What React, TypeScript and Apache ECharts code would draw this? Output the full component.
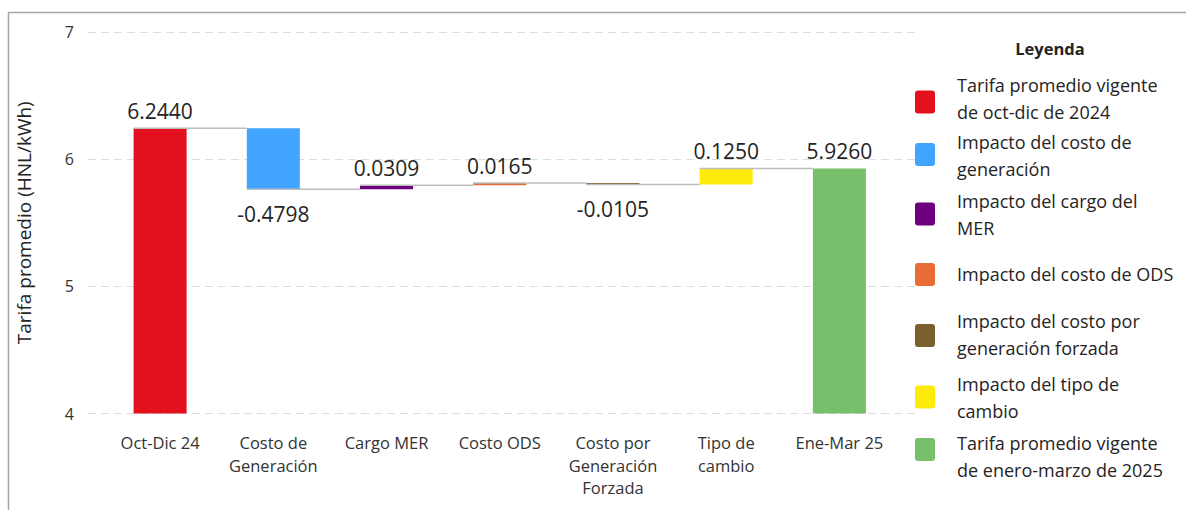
import React, { useEffect, useRef } from "react";
import * as echarts from "echarts";

const categories = [
  "Oct-Dic 24",
  "Costo de\nGeneración",
  "Cargo MER",
  "Costo ODS",
  "Costo por\nGeneración\nForzada",
  "Tipo de\ncambio",
  "Ene-Mar 25",
];
const changes = [6.244, -0.4798, 0.0309, 0.0165, -0.0105, 0.125, 5.926];
const isTotal = [true, false, false, false, false, false, true];
const barColors = ["#E3101E", "#41A5FF", "#6E007F", "#E96C37", "#7B5F2F", "#FFEB0B", "#77BF6A"];
const legendLabels = [
  "Tarifa promedio vigente\nde oct-dic de 2024",
  "Impacto del costo de\ngeneración",
  "Impacto del cargo del\nMER",
  "Impacto del costo de ODS",
  "Impacto del costo por\ngeneración forzada",
  "Impacto del tipo de\ncambio",
  "Tarifa promedio vigente\nde enero-marzo de 2025",
];
const yTicks = [4, 5, 6, 7];

const FONT = "'Open Sans', 'Noto Sans', sans-serif";

export default function App() {
  const ref = useRef<HTMLDivElement>(null);
  useEffect(() => {
    if (!ref.current) return;
    const chart = echarts.init(ref.current, undefined, { renderer: "svg" });

    const base: number[] = [];
    const visible: number[] = [];
    const ends: number[] = [];
    let running = 0;
    changes.forEach((c, i) => {
      if (isTotal[i]) {
        base.push(0);
        visible.push(c);
        running = c;
      } else {
        const next = running + c;
        base.push(Math.min(running, next));
        visible.push(Math.abs(c));
        running = next;
      }
      ends.push(running);
    });
    const connectors = ends.slice(0, -1).map((v, i) => [i, v]);
    const barWidth = 53;

    const swatchY = [102, 154.5, 214, 274.5, 335.5, 397, 449.5];
    const textY = [98.5, 155, 214.5, 274, 334, 397, 456.5];
    const legendGraphics: any[] = [
      {
        type: "text",
        x: 1050,
        y: 48,
        style: { text: "Leyenda", fontFamily: FONT, fontSize: 16.5, fontWeight: "bold", fill: "#252423", align: "center", verticalAlign: "middle" },
      },
    ];
    legendLabels.forEach((lab, i) => {
      legendGraphics.push({
        type: "rect",
        shape: { x: 915, y: swatchY[i] - 11.5, width: 20, height: 23, r: 3 },
        style: { fill: barColors[i] },
      });
      legendGraphics.push({
        type: "text",
        x: 957,
        y: textY[i],
        style: { text: lab, fontFamily: FONT, fontSize: 18, fill: "#252423", lineHeight: 27, verticalAlign: "middle", align: "left" },
      });
    });

    chart.setOption({
      animation: false,
      textStyle: { fontFamily: FONT },
      grid: [
        { left: 88, right: 1186 - 915, top: 32, bottom: 510 - 413.5 },
        { left: 103.5, right: 1186 - 896, top: 32, bottom: 510 - 413.5 },
      ],
      xAxis: [
        { type: "category", gridIndex: 0, data: categories, show: false },
        {
          type: "category",
          gridIndex: 1,
          data: categories,
          axisLine: { show: false },
          axisTick: { show: false },
          axisLabel: { color: "#333", fontSize: 16.5, lineHeight: 22.5, margin: 18, interval: 0, fontFamily: FONT },
        },
      ],
      yAxis: [
        {
          type: "value",
          gridIndex: 0,
          min: yTicks[0],
          max: yTicks[yTicks.length - 1],
          interval: 1,
          axisLine: { show: false },
          axisTick: { show: false },
          axisLabel: { color: "#333", fontSize: 16, margin: 14, fontFamily: FONT },
          splitLine: { lineStyle: { color: "#DDDDDD", type: [8, 5], width: 1 } },
          name: "Tarifa promedio (HNL/kWh)",
          nameLocation: "middle",
          nameGap: 55,
          nameTextStyle: { fontSize: 19, color: "#252423", fontFamily: FONT },
        },
        {
          type: "value",
          gridIndex: 1,
          min: yTicks[0],
          max: yTicks[yTicks.length - 1],
          interval: 1,
          show: false,
          splitLine: { show: false },
        },
      ],
      graphic: [
        {
          type: "rect",
          shape: { x: 8.5, y: 12.5, width: 1300, height: 700 },
          style: { fill: "none", stroke: "#A6A6A6", lineWidth: 1.5 },
          silent: true,
        },
        ...legendGraphics,
      ],
      series: [
        {
          type: "bar",
          xAxisIndex: 1,
          yAxisIndex: 1,
          stack: "wf",
          barWidth,
          itemStyle: { color: "transparent" },
          data: base,
          silent: true,
        },
        {
          type: "bar",
          xAxisIndex: 1,
          yAxisIndex: 1,
          stack: "wf",
          barWidth,
          data: visible.map((v, i) => ({
            value: v,
            itemStyle: { color: barColors[i] },
            label: {
              show: true,
              position: changes[i] < 0 ? "bottom" : "top",
              distance: changes[i] < 0 ? 14 : 7,
              formatter: changes[i].toFixed(4),
              fontSize: 21,
              color: "#252423",
              fontFamily: FONT,
            },
          })),
        },
        {
          type: "custom",
          xAxisIndex: 1,
          yAxisIndex: 1,
          data: connectors,
          z: 5,
          renderItem: (params: any, api: any) => {
            const i = api.value(0);
            const v = api.value(1);
            const p1 = api.coord([i, v]);
            const p2 = api.coord([i + 1, v]);
            return {
              type: "line",
              shape: { x1: p1[0] - barWidth / 2, y1: p1[1], x2: p2[0] - barWidth / 2, y2: p2[1] },
              style: { stroke: "#BDBDBD", lineWidth: 1.5 },
            };
          },
        },
      ],
    });
    return () => chart.dispose();
  }, []);
  return <div ref={ref} style={{ position: "fixed", left: 0, top: 0, width: 1186, height: 510, background: "#fff" }} />;
}
